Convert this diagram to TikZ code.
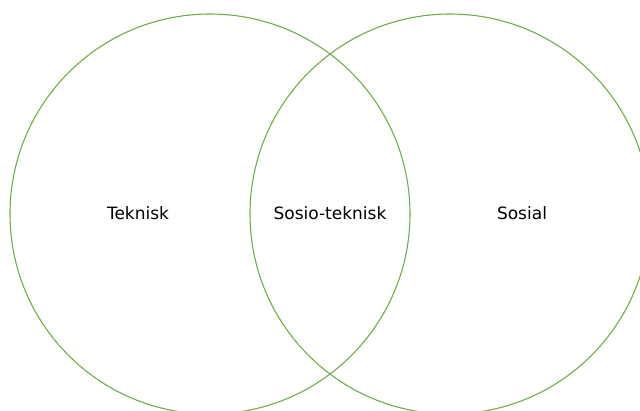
\documentclass[tikz,border=0pt]{standalone}
\usepackage{fontspec}
\setmainfont{DejaVu Sans}
\definecolor{vgreen}{RGB}{112,173,71}
\begin{document}
\begin{tikzpicture}[x=1pt,y=-1pt,
  ring/.style={draw=vgreen,line width=1.1pt},
  lbl/.style={font=\fontsize{17}{20}\selectfont,text=black}]
\useasboundingbox (0,0) rectangle (640,410);
\clip (0,0) rectangle (640,410);
\node[ring,circle,minimum size=400pt,inner sep=0pt] (left) at (210,214) {};
\node[ring,circle,minimum size=400pt,inner sep=0pt] (right) at (450,214) {};
\node[lbl] (tek) at (138,213) {Teknisk};
\node[lbl] (sos) at (330,213) {Sosio-teknisk};
\node[lbl] (soc) at (522,213) {Sosial};
\end{tikzpicture}
\end{document}
